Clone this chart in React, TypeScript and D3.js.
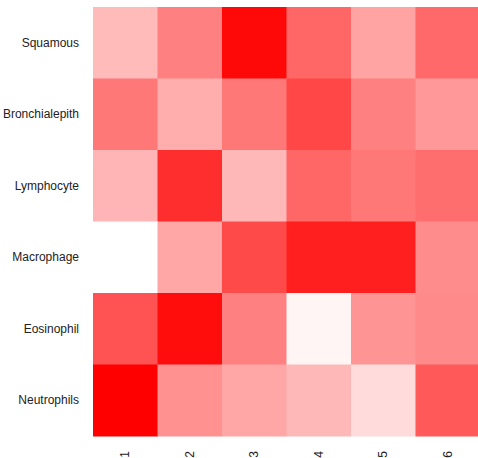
import React, { useEffect, useRef } from "react";
import * as d3 from "d3";

const rows = ["Squamous", "Bronchialepith", "Lymphocyte", "Macrophage", "Eosinophil", "Neutrophils"];
const cols = ["1", "2", "3", "4", "5", "6"];

// one array per row, read as redness (0 = white, 1 = full red)
const squamous = [0.27, 0.5, 0.97, 0.6, 0.36, 0.59];
const bronchial = [0.53, 0.32, 0.53, 0.72, 0.5, 0.4];
const lymphocyte = [0.29, 0.82, 0.28, 0.6, 0.53, 0.57];
const macrophage = [0.0, 0.35, 0.71, 0.88, 0.88, 0.45];
const eosinophil = [0.68, 0.95, 0.5, 0.04, 0.42, 0.46];
const neutrophils = [1.0, 0.43, 0.35, 0.28, 0.14, 0.65];

const values = [squamous, bronchial, lymphocyte, macrophage, eosinophil, neutrophils];

const App = () => {
    const ref = useRef<SVGSVGElement>(null);

    useEffect(() => {
        const width = 478, height = 458;
        const svg = d3.select(ref.current)
            .attr("width", width)
            .attr("height", height);

        svg.selectAll("*").remove();

        const left = 93, right = 480, top = 7, bottom = 436;

        const x = d3.scaleBand().domain(cols).range([left, right]);
        const y = d3.scaleBand().domain(rows).range([top, bottom]);
        const color = d3.scaleLinear<string>()
            .domain([0, 1])
            .range(["#ffffff", "#ff0000"]);

        const cells = values.flatMap((r, i) => r.map((v, j) => ({ row: rows[i], col: cols[j], v })));

        svg.append("g")
            .selectAll("rect")
            .data(cells)
            .enter()
            .append("rect")
            .attr("x", d => x(d.col)!)
            .attr("y", d => y(d.row)!)
            .attr("width", x.bandwidth() + 0.5)
            .attr("height", y.bandwidth() + 0.5)
            .attr("fill", d => color(d.v));

        svg.append("g")
            .selectAll("text")
            .data(rows)
            .enter()
            .append("text")
            .attr("x", 79)
            .attr("y", d => y(d)! + y.bandwidth() / 2)
            .attr("dy", "0.35em")
            .attr("text-anchor", "end")
            .attr("font-family", "Liberation Sans, Arial, sans-serif")
            .attr("font-size", 12)
            .attr("fill", "#222")
            .text(d => d);

        svg.append("g")
            .selectAll("text")
            .data(cols)
            .enter()
            .append("text")
            .attr("transform", d => `translate(${x(d)! + x.bandwidth() / 2},451) rotate(-90)`)
            .attr("dy", "0.35em")
            .attr("text-anchor", "end")
            .attr("font-family", "Liberation Sans, Arial, sans-serif")
            .attr("font-size", 12)
            .attr("fill", "#222")
            .text(d => d);
    }, []);

    return <svg ref={ref} style={{ position: "absolute", left: 0, top: 0 }}></svg>;
};

export default App;
